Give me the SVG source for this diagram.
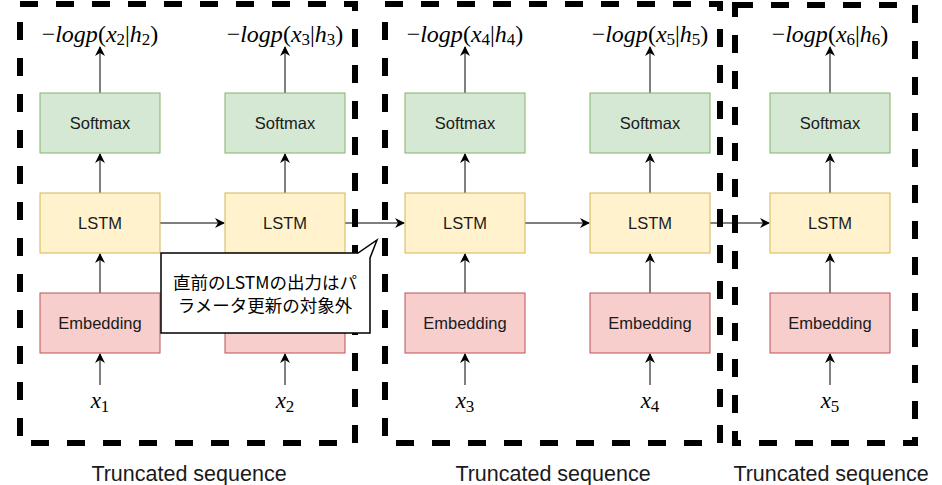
<svg xmlns="http://www.w3.org/2000/svg" width="942" height="485" viewBox="0 0 942 485">
<defs>
<marker id="ah" viewBox="0 0 10 10" refX="9" refY="5" markerWidth="10" markerHeight="10" markerUnits="userSpaceOnUse" orient="auto">
<path d="M0,0 L10,5 L0,10 L3,5 Z" fill="#000"/>
</marker>
</defs>
<style>
.sm{fill:#d5e8d4;stroke:#82b366;stroke-width:1}
.ls{fill:#fff2cc;stroke:#d6b656;stroke-width:1}
.em{fill:#f8cecc;stroke:#b85450;stroke-width:1}
.nt{font-family:"Liberation Sans","Noto Sans",sans-serif;font-size:16.5px;fill:#1a1a1a;text-anchor:middle}
.math{font-family:"Liberation Serif","DejaVu Serif",serif;font-size:24px;fill:#000;text-anchor:middle}
.mi{font-family:"Liberation Serif","DejaVu Serif",serif;font-size:23px;fill:#000;text-anchor:middle}
.it{font-style:italic}
.sub{font-size:17px}
.tr{font-family:"Liberation Sans","Noto Sans",sans-serif;font-size:21.5px;fill:#1a1a1a;text-anchor:middle}
.dash{fill:none;stroke:#000;stroke-width:6;stroke-dasharray:18 18}
.cn{fill:none;stroke:#000;stroke-width:1;marker-end:url(#ah)}
.co{font-family:"Noto Sans CJK JP","Noto Sans",sans-serif;font-size:17.5px;fill:#000;text-anchor:middle}
</style>

<g id="seq1"><rect class="dash" x="20" y="4" width="335" height="439"/></g>
<g id="seq2"><rect class="dash" x="385" y="4" width="335" height="439"/></g>
<g id="seq3"><rect class="dash" x="735" y="5" width="180" height="438"/></g>

<g id="connectors">
<line class="cn" x1="100" y1="385" x2="100" y2="354"/>
<line class="cn" x1="285" y1="385" x2="285" y2="354"/>
<line class="cn" x1="465" y1="385" x2="465" y2="354"/>
<line class="cn" x1="650" y1="385" x2="650" y2="354"/>
<line class="cn" x1="830" y1="385" x2="830" y2="354"/>
<line class="cn" x1="100" y1="293" x2="100" y2="254"/>
<line class="cn" x1="285" y1="293" x2="285" y2="254"/>
<line class="cn" x1="465" y1="293" x2="465" y2="254"/>
<line class="cn" x1="650" y1="293" x2="650" y2="254"/>
<line class="cn" x1="830" y1="293" x2="830" y2="254"/>
<line class="cn" x1="100" y1="193" x2="100" y2="154"/>
<line class="cn" x1="285" y1="193" x2="285" y2="154"/>
<line class="cn" x1="465" y1="193" x2="465" y2="154"/>
<line class="cn" x1="650" y1="193" x2="650" y2="154"/>
<line class="cn" x1="830" y1="193" x2="830" y2="154"/>
<line class="cn" x1="100" y1="93" x2="100" y2="47"/>
<line class="cn" x1="285" y1="93" x2="285" y2="47"/>
<line class="cn" x1="465" y1="93" x2="465" y2="47"/>
<line class="cn" x1="650" y1="93" x2="650" y2="47"/>
<line class="cn" x1="830" y1="93" x2="830" y2="47"/>
<line class="cn" x1="160" y1="223" x2="224" y2="223"/>
<line class="cn" x1="345" y1="223" x2="404" y2="223"/>
<line class="cn" x1="525" y1="223" x2="589" y2="223"/>
<line class="cn" x1="710" y1="223" x2="769" y2="223"/>
</g>

<g id="softmax1"><rect class="sm" x="40" y="93" width="120" height="60"/><text class="nt" x="100" y="129">Softmax</text></g>
<g id="softmax2"><rect class="sm" x="225" y="93" width="120" height="60"/><text class="nt" x="285" y="129">Softmax</text></g>
<g id="softmax3"><rect class="sm" x="405" y="93" width="120" height="60"/><text class="nt" x="465" y="129">Softmax</text></g>
<g id="softmax4"><rect class="sm" x="590" y="93" width="120" height="60"/><text class="nt" x="650" y="129">Softmax</text></g>
<g id="softmax5"><rect class="sm" x="770" y="93" width="120" height="60"/><text class="nt" x="830" y="129">Softmax</text></g>

<g id="lstm1"><rect class="ls" x="40" y="193" width="120" height="60"/><text class="nt" x="100" y="229">LSTM</text></g>
<g id="lstm2"><rect class="ls" x="225" y="193" width="120" height="60"/><text class="nt" x="285" y="229">LSTM</text></g>
<g id="lstm3"><rect class="ls" x="405" y="193" width="120" height="60"/><text class="nt" x="465" y="229">LSTM</text></g>
<g id="lstm4"><rect class="ls" x="590" y="193" width="120" height="60"/><text class="nt" x="650" y="229">LSTM</text></g>
<g id="lstm5"><rect class="ls" x="770" y="193" width="120" height="60"/><text class="nt" x="830" y="229">LSTM</text></g>

<g id="emb1"><rect class="em" x="40" y="293" width="120" height="60"/><text class="nt" x="100" y="329">Embedding</text></g>
<g id="emb2"><rect class="em" x="225" y="293" width="120" height="60"/></g>
<g id="emb3"><rect class="em" x="405" y="293" width="120" height="60"/><text class="nt" x="465" y="329">Embedding</text></g>
<g id="emb4"><rect class="em" x="590" y="293" width="120" height="60"/><text class="nt" x="650" y="329">Embedding</text></g>
<g id="emb5"><rect class="em" x="770" y="293" width="120" height="60"/><text class="nt" x="830" y="329">Embedding</text></g>

<g id="out1"><text class="math" x="100" y="42">−<tspan class="it">logp</tspan>(<tspan class="it">x</tspan><tspan class="sub" dy="3">2</tspan><tspan dy="-3">|</tspan><tspan class="it">h</tspan><tspan class="sub" dy="3">2</tspan><tspan dy="-3">)</tspan></text></g>
<g id="out2"><text class="math" x="285" y="42">−<tspan class="it">logp</tspan>(<tspan class="it">x</tspan><tspan class="sub" dy="3">3</tspan><tspan dy="-3">|</tspan><tspan class="it">h</tspan><tspan class="sub" dy="3">3</tspan><tspan dy="-3">)</tspan></text></g>
<g id="out3"><text class="math" x="465" y="42">−<tspan class="it">logp</tspan>(<tspan class="it">x</tspan><tspan class="sub" dy="3">4</tspan><tspan dy="-3">|</tspan><tspan class="it">h</tspan><tspan class="sub" dy="3">4</tspan><tspan dy="-3">)</tspan></text></g>
<g id="out4"><text class="math" x="650" y="42">−<tspan class="it">logp</tspan>(<tspan class="it">x</tspan><tspan class="sub" dy="3">5</tspan><tspan dy="-3">|</tspan><tspan class="it">h</tspan><tspan class="sub" dy="3">5</tspan><tspan dy="-3">)</tspan></text></g>
<g id="out5"><text class="math" x="830" y="42">−<tspan class="it">logp</tspan>(<tspan class="it">x</tspan><tspan class="sub" dy="3">6</tspan><tspan dy="-3">|</tspan><tspan class="it">h</tspan><tspan class="sub" dy="3">6</tspan><tspan dy="-3">)</tspan></text></g>

<g id="in1"><text class="mi" x="100" y="408"><tspan class="it">x</tspan><tspan class="sub" dy="4">1</tspan></text></g>
<g id="in2"><text class="mi" x="285" y="408"><tspan class="it">x</tspan><tspan class="sub" dy="4">2</tspan></text></g>
<g id="in3"><text class="mi" x="465" y="408"><tspan class="it">x</tspan><tspan class="sub" dy="4">3</tspan></text></g>
<g id="in4"><text class="mi" x="650" y="408"><tspan class="it">x</tspan><tspan class="sub" dy="4">4</tspan></text></g>
<g id="in5"><text class="mi" x="830" y="408"><tspan class="it">x</tspan><tspan class="sub" dy="4">5</tspan></text></g>

<g id="callout">
<path d="M161,253 H358 L377,240 L370,258 V333 H161 Z" fill="#fff" stroke="#000" stroke-width="1.5"/>
<text class="co" x="265" y="289">直前のLSTMの出力はパ</text>
<text class="co" x="265" y="312">ラメータ更新の対象外</text>
</g>

<g id="labels">
<text class="tr" x="189" y="481">Truncated sequence</text>
<text class="tr" x="553" y="481">Truncated sequence</text>
<text class="tr" x="831" y="481">Truncated sequence</text>
</g>
</svg>
